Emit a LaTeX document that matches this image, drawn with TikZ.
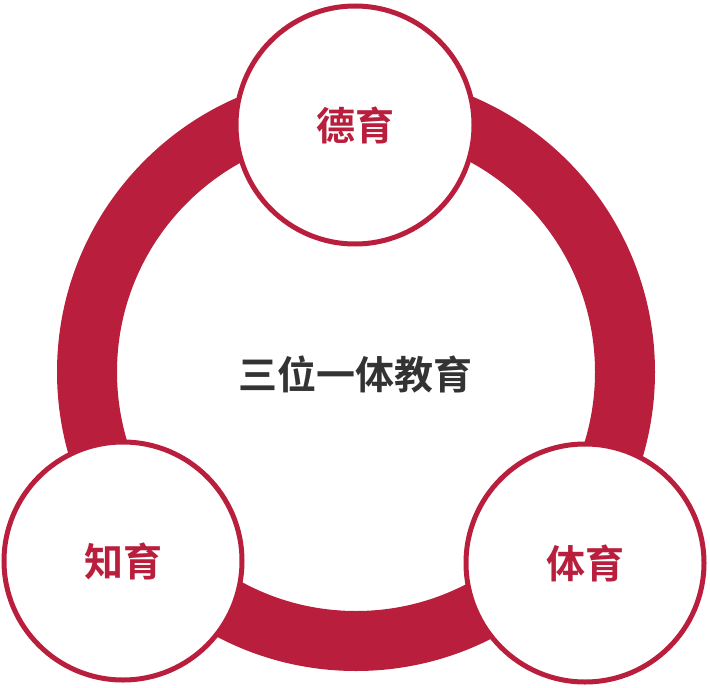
\documentclass[tikz,border=0pt]{standalone}
\usepackage{fontspec}
\usepackage{xcolor}
\usepackage{tikz}
\newfontfamily\cjk{Noto Sans CJK SC}[BoldFont={Noto Sans CJK SC Bold}]
\definecolor{ringred}{HTML}{B91F3C}
\definecolor{textgray}{HTML}{333333}

\begin{document}
\begin{tikzpicture}[x=1pt,y=-1pt,
  part/.style={circle, draw=ringred, line width=5pt, fill=white,
    minimum size=238pt, inner sep=0pt, text=ringred,
    font=\cjk\bfseries\fontsize{39}{43}\selectfont}]
  \useasboundingbox (0,0) rectangle (710,688);
  % Ring
  \draw[ringred, line width=60pt] (356,372) circle (269);
  % Centre text
  \node[text=textgray, font=\cjk\bfseries\fontsize{39}{43}\selectfont] (whole) at (355,374) {三位一体教育};
  % Three parts
  \node[part] (moral) at (355,125) {德育};
  \node[part] (intel) at (123,561) {知育};
  \node[part] (body) at (585,563) {体育};
\end{tikzpicture}
\end{document}
